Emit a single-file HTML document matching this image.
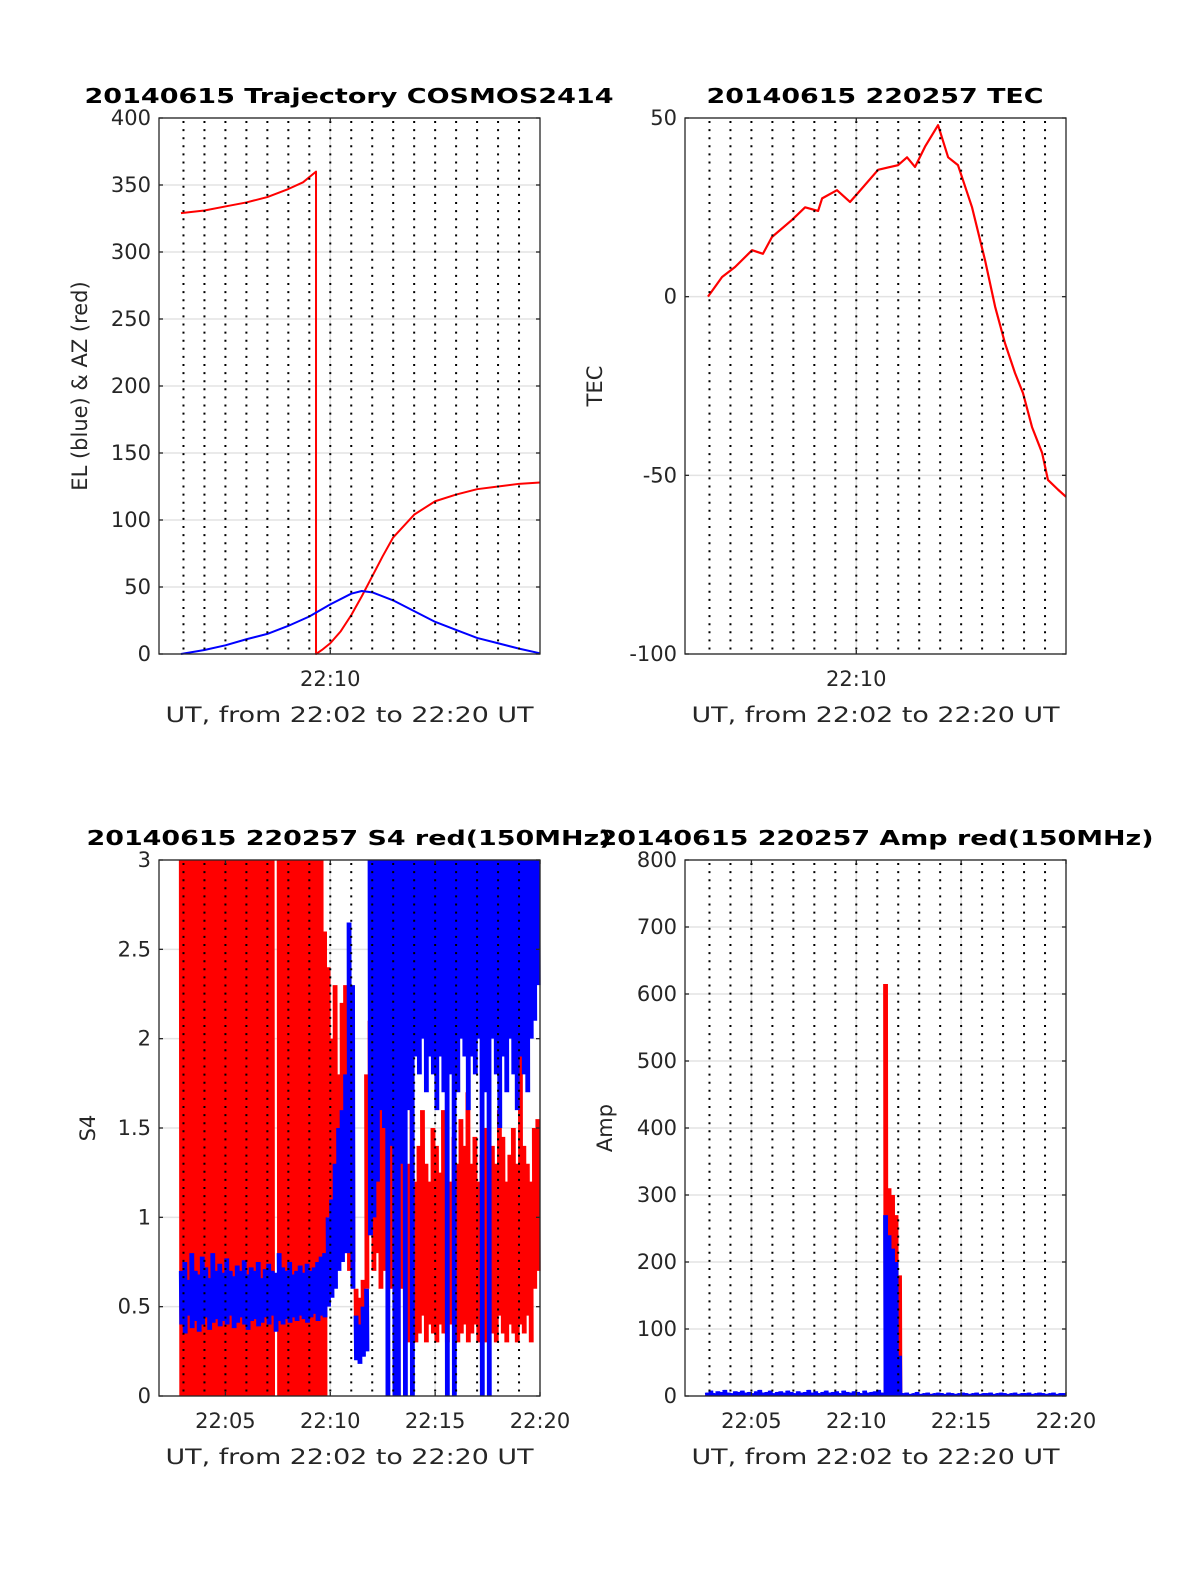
<!DOCTYPE html>
<html><head><meta charset="utf-8"><style>
html,body{margin:0;padding:0;background:#fff;overflow:hidden}
svg{display:block;font-family:"DejaVu Sans","Liberation Sans",sans-serif}
</style></head><body>
<svg id="fig" width="1200" height="1575" viewBox="0 0 1200 1575" xmlns="http://www.w3.org/2000/svg"></svg>
<script>
// ---- Trajectory data (minutes after 22:00) ----
const azT=[2.88,4,5,6,7,8,8.7,9.32,9.32,9.6,10,10.5,11,11.5,12,12.5,13,14,15,16,17,18,19,20];
const azV=[329,331,334,337,341,347,352,360,0,3,8,17,29,43,58,73,87,104,114,119,123,125,127,128];
const elT=[2.88,4,5,6,7,8,9,10,11,11.5,12,13,14,15,16,17,18,19,20];
const elV=[0,3,6.5,11,15,21,28,37,45,47,46,40,32,24,18,12,8,4,0.5];
// ---- TEC ----
const tecT=[2.93,3.6,4.22,5.03,5.55,5.98,6.94,7.56,8.18,8.37,9.08,9.7,10.08,11.04,11.99,12.42,12.8,13.28,13.9,14.38,14.85,15.52,16.14,16.62,17.09,17.57,17.95,18.38,18.86,19.14,19.62,20];
const tecV=[0,5.5,8.3,13,12,16.7,21.5,25,24,27.5,29.8,26.5,29,35.5,36.8,39,36.3,42,48,39,36.8,25,10.2,-2.8,-13,-21.4,-27,-36.5,-43.7,-51.3,-54,-56];
// ---- S4 envelopes, 10-s bins starting 22:02:50 ----
const binStart=2.833, binWidth=1/6;
const s4RedLo=[0,0,0,0,0,0,0,0,0,0,0,0,0,0,0,0,0,0,0,0,0,0,0,0,0,0,0,null,0,0,0,0,0,0,0,0,0,0,0,0,0,0,
1.0,0.95,1.1,0.9,0.85,0.8,0.7,0.75,0.3,0.25,0.3,
0.6,0.9,0.7,0.8,0.6,0.7,0.8,0.6,0.7,0.9,0.6,
0.35,0.3,0.4,0.3,0.35,0.45,0.3,0.4,0.35,0.3,0.4,0.35,0.3,0.4,0.45,0.3,0.35,0.4,0.3,0.35,0.4,0.3,0.35,0.3,0.4,0.35,0.3,0.45,0.35,0.3,0.4,0.35,0.3,0.4,0.35,0.45,0.3,0.6,0.7];
const s4RedHi=[3,3,3,3,3,3,3,3,3,3,3,3,3,3,3,3,3,3,3,3,3,3,3,3,3,3,3,null,3,3,3,3,3,3,3,3,3,3,3,3,3,2.6,
2.4,2.0,2.3,1.8,2.2,2.3,1.9,1.6,0.6,0.55,0.65,
1.8,2.1,2.4,2.0,2.2,1.9,2.3,3.0,2.0,2.4,1.7,
1.5,1.3,1.7,1.2,1.4,1.6,1.3,1.2,1.5,1.4,1.25,1.6,1.35,1.2,1.45,1.3,1.55,1.4,1.7,1.3,1.45,1.2,1.35,1.5,1.25,1.4,1.3,1.6,1.45,1.2,1.35,1.5,1.3,2.1,1.4,1.3,1.2,1.5,1.55];
const s4BlueLo=[0.4,0.35,0.45,0.38,0.42,0.36,0.4,0.44,0.37,0.41,0.43,0.39,0.42,0.4,0.45,0.38,0.41,0.44,0.4,0.37,0.42,0.43,0.39,0.41,0.44,0.4,0.45,0.36,0.42,0.4,0.43,0.41,0.44,0.42,0.45,0.43,0.41,0.44,0.46,0.42,0.45,0.44,
0.5,0.55,0.6,0.7,0.75,0.8,0.8,0.6,0.2,0.18,0.22,0.25,0.9,1.0,1.2,
1.6,1.5,0,1.4,0,0,1.3,0,1.6,0,1.9,1.8,2.0,1.7,1.9,1.8,1.6,1.9,1.7,0,1.8,0,1.7,2.0,1.9,1.6,1.9,1.8,2.0,0,1.7,0,2.0,1.8,1.5,1.9,1.7,2.0,1.8,1.6,1.9,1.8,1.7,2.0,2.1,2.3];
const s4BlueHi=[0.7,0.75,0.65,0.8,0.7,0.68,0.78,0.72,0.66,0.8,0.7,0.74,0.69,0.77,0.7,0.67,0.73,0.7,0.76,0.68,0.72,0.7,0.75,0.66,0.71,0.74,0.7,0.69,0.8,0.72,0.7,0.75,0.68,0.7,0.73,0.69,0.74,0.7,0.72,0.75,0.78,0.8,
1.0,1.1,1.3,1.5,1.6,1.8,2.65,2.3,0.45,0.4,0.5,0.6,3,3,3,
3,3,3,3,3,3,3,3,3,3,3,3,3,3,3,3,3,3,3,3,3,3,3,3,3,3,3,3,3,3,3,3,3,3,3,3,3,3,3,3,3,3,3,3,3,3];
// ---- Amp envelopes ----
const ampRedHi=[2,1,3,2,1,2,3,1,2,2,1,3,2,1,2,2,3,1,2,1,2,3,2,1,2,2,1,3,2,2,1,2,3,1,2,2,1,2,3,2,1,2,2,1,3,2,1,2,2,3,1,
615,310,300,270,180,
2,1,2,3,1,2,2,1,3,2,1,2,2,3,1,2,1,2,3,2,1,2,2,1,3,2,1,2,2,3,1,2,1,2,3,2,1,2,2,1,3,2,1,2,2,3,1];
const ampRedLo=[0,0,0,0,0,0,0,0,0,0,0,0,0,0,0,0,0,0,0,0,0,0,0,0,0,0,0,0,0,0,0,0,0,0,0,0,0,0,0,0,0,0,0,0,0,0,0,0,0,0,0,
0,40,20,0,0,
0,0,0,0,0,0,0,0,0,0,0,0,0,0,0,0,0,0,0,0,0,0,0,0,0,0,0,0,0,0,0,0,0,0,0,0,0,0,0,0,0,0,0,0,0,0,0];
const ampBlueHi=[5,8,4,7,6,9,5,4,7,6,8,5,6,4,7,9,5,6,8,4,6,7,5,8,6,4,7,5,6,9,5,7,4,6,8,5,6,7,4,8,6,5,7,6,4,8,5,6,7,9,5,
270,240,220,200,60,
4,5,3,4,6,3,4,5,3,4,5,4,3,5,4,3,4,5,4,3,4,5,3,4,4,5,3,4,5,4,3,4,5,3,4,4,5,3,4,5,4,3,4,5,3,4,4];
const ampBlueLo=[0,0,0,0,0,0,0,0,0,0,0,0,0,0,0,0,0,0,0,0,0,0,0,0,0,0,0,0,0,0,0,0,0,0,0,0,0,0,0,0,0,0,0,0,0,0,0,0,0,0,0,
0,0,0,0,0,
0,0,0,0,0,0,0,0,0,0,0,0,0,0,0,0,0,0,0,0,0,0,0,0,0,0,0,0,0,0,0,0,0,0,0,0,0,0,0,0,0,0,0,0,0,0,0];
const minuteGrid=[3,4,5,6,7,8,9,10,11,12,13,14,15,16,17,18,19];

const NS="http://www.w3.org/2000/svg";
const svg=document.getElementById('fig');
function el(tag,attrs,parent){const e=document.createElementNS(NS,tag);for(const k in attrs)e.setAttribute(k,attrs[k]);(parent||svg).appendChild(e);return e;}
function txt(s,attrs,parent){const e=el('text',attrs,parent);e.textContent=s;return e;}

function makeAxes(cfg){
  const g=el('g',{});
  
  
  const L=cfg.x,T=cfg.y,W=381,H=536;
  const xs=t=>L+(t-1.833)/(20-1.833)*W;
  const ys=v=>T+H-(v-cfg.ymin)/(cfg.ymax-cfg.ymin)*H;
  cfg.yticks.forEach(v=>{const gl=el('line',{x1:L,x2:L+W,y1:ys(v),y2:ys(v),stroke:'#e3e3e3','stroke-width':1.5},g);
    });
  cfg.xticks.forEach(t=>{const gl=el('line',{x1:xs(t),x2:xs(t),y1:T,y2:T+H,stroke:'#e3e3e3','stroke-width':1.5},g);
    });
  const series=el('g',{},g);
  
  cfg.draw(series,xs,ys);
  minuteGrid.forEach(t=>{const d=el('line',{x1:xs(t),x2:xs(t),y1:T+3,y2:T+H,stroke:'#000','stroke-width':2,'stroke-dasharray':'2,6.1'},g);
    });
  const box=el('rect',{x:L,y:T,width:W,height:H,fill:'none',stroke:'#262626','stroke-width':1.3},g);
  
  cfg.yticks.forEach(v=>{
    el('line',{x1:L,x2:L+4,y1:ys(v),y2:ys(v),stroke:'#262626','stroke-width':1.3},g);
    el('line',{x1:L+W-4,x2:L+W,y1:ys(v),y2:ys(v),stroke:'#262626','stroke-width':1.3},g);
    const tl=txt(String(v),{x:L-8,y:ys(v)+7,'text-anchor':'end','font-size':21,fill:'#262626'},g);
    
  });
  cfg.xticks.forEach((t,i)=>{
    el('line',{x1:xs(t),x2:xs(t),y1:T,y2:T+4,stroke:'#262626','stroke-width':1.3},g);
    el('line',{x1:xs(t),x2:xs(t),y1:T+H-4,y2:T+H,stroke:'#262626','stroke-width':1.3},g);
    const tl=txt(cfg.xlabels[i],{x:xs(t),y:T+H+32,'text-anchor':'middle','font-size':21,fill:'#262626'},g);
    
  });
  const xl=txt('UT, from 22:02 to 22:20 UT',{x:L+W/2,y:T+H+68,'text-anchor':'middle','font-size':21,fill:'#262626',textLength:368,lengthAdjust:'spacingAndGlyphs'},g);
  
  const yl=txt(cfg.ylabel,{x:0,y:0,'text-anchor':'middle','font-size':21,fill:'#262626',transform:`translate(${cfg.ylx},${T+H/2}) rotate(-90)`},g);
  
  const tt=txt(cfg.title,{x:cfg.tx,y:T-15,'text-anchor':'middle','font-size':20,'font-weight':'bold',fill:'#000',textLength:cfg.tw,lengthAdjust:'spacingAndGlyphs'},g);
  
}
function line(parent,T,V,xs,ys,color,name,w){
  const d=T.map((t,i)=>(i?'L':'M')+xs(t).toFixed(2)+','+ys(V[i]).toFixed(2)).join('');
  const p=el('path',{d:d,fill:'none',stroke:color,'stroke-width':w||2,'stroke-linejoin':'round'},parent);
  
}
function envelope(parent,lo,hi,xs,ys,color,name){
  let d='';
  for(let i=0;i<lo.length;i++){
    if(lo[i]===null||hi[i]===null)continue;
    const t0=binStart+i*binWidth;
    for(let k=0;k<4;k++){
      const t=t0+k*binWidth/4;
      d+='M'+xs(t).toFixed(2)+','+ys(hi[i]).toFixed(2)+'L'+xs(t+binWidth/8).toFixed(2)+','+ys(lo[i]).toFixed(2);
    }
  }
  const p=el('path',{d:d,fill:'none',stroke:color,'stroke-width':2.2},parent);
  
}

makeAxes({name:'trajectory-chart',x:159,y:118,ymin:0,ymax:400,yticks:[0,50,100,150,200,250,300,350,400],
  xticks:[10],xlabels:['22:10'],ylabel:'EL (blue) & AZ (red)',ylx:87,title:'20140615 Trajectory COSMOS2414',tx:349,tw:529,
  draw:(g,xs,ys)=>{line(g,azT,azV,xs,ys,'#ff0000','az-line');line(g,elT,elV,xs,ys,'#0000ff','el-line');}});
makeAxes({name:'tec-chart',x:685,y:118,ymin:-100,ymax:50,yticks:[-100,-50,0,50],
  xticks:[10],xlabels:['22:10'],ylabel:'TEC',ylx:602,title:'20140615 220257 TEC',tx:875,tw:337,
  draw:(g,xs,ys)=>{line(g,tecT,tecV,xs,ys,'#ff0000','tec-line',2.2);}});
makeAxes({name:'s4-chart',x:159,y:860,ymin:0,ymax:3,yticks:[0,0.5,1,1.5,2,2.5,3],
  xticks:[5,10,15,20],xlabels:['22:05','22:10','22:15','22:20'],ylabel:'S4',ylx:95,title:'20140615 220257 S4 red(150MHz)',tx:349,tw:525,
  draw:(g,xs,ys)=>{envelope(g,s4RedLo,s4RedHi,xs,ys,'#ff0000','s4-red-series');envelope(g,s4BlueLo,s4BlueHi,xs,ys,'#0000ff','s4-blue-series');}});
makeAxes({name:'amp-chart',x:685,y:860,ymin:0,ymax:800,yticks:[0,100,200,300,400,500,600,700,800],
  xticks:[5,10,15,20],xlabels:['22:05','22:10','22:15','22:20'],ylabel:'Amp',ylx:612,title:'20140615 220257 Amp red(150MHz)',tx:876,tw:555,
  draw:(g,xs,ys)=>{envelope(g,ampRedLo,ampRedHi,xs,ys,'#ff0000','amp-red-series');envelope(g,ampBlueLo,ampBlueHi,xs,ys,'#0000ff','amp-blue-series');}});
</script>
</body></html>
